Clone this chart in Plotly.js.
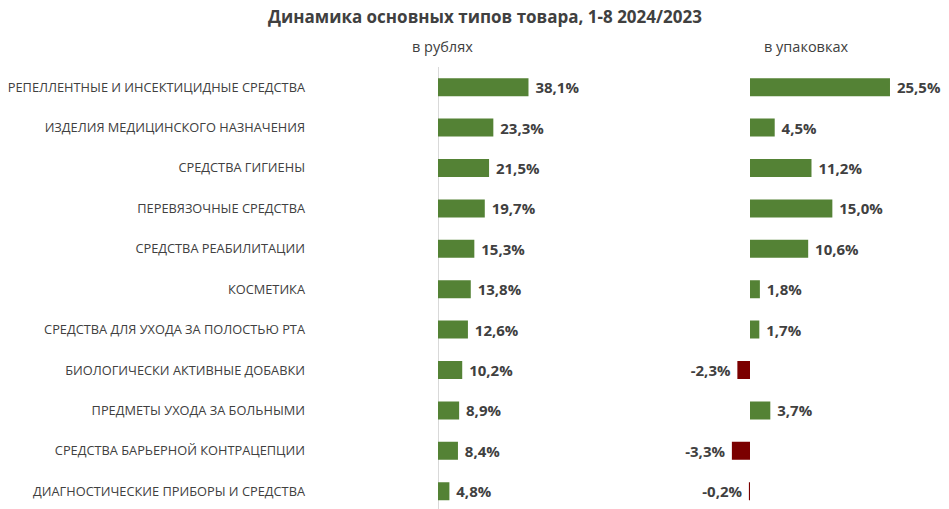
<!DOCTYPE html>
<html><head><meta charset="utf-8">
<script src="https://cdn.plot.ly/plotly-3.0.1.min.js"></script>
<style>html,body{margin:0;padding:0;background:#fff}#chart{width:949px;height:509px}</style>
</head><body><div id="chart"></div>
<script>
const categories = [
  "РЕПЕЛЛЕНТНЫЕ И ИНСЕКТИЦИДНЫЕ СРЕДСТВА",
  "ИЗДЕЛИЯ МЕДИЦИНСКОГО НАЗНАЧЕНИЯ",
  "СРЕДСТВА ГИГИЕНЫ",
  "ПЕРЕВЯЗОЧНЫЕ СРЕДСТВА",
  "СРЕДСТВА РЕАБИЛИТАЦИИ",
  "КОСМЕТИКА",
  "СРЕДСТВА ДЛЯ УХОДА ЗА ПОЛОСТЬЮ РТА",
  "БИОЛОГИЧЕСКИ АКТИВНЫЕ ДОБАВКИ",
  "ПРЕДМЕТЫ УХОДА ЗА БОЛЬНЫМИ",
  "СРЕДСТВА БАРЬЕРНОЙ КОНТРАЦЕПЦИИ",
  "ДИАГНОСТИЧЕСКИЕ ПРИБОРЫ И СРЕДСТВА"
];
const rubles = [38.1, 23.3, 21.5, 19.7, 15.3, 13.8, 12.6, 10.2, 8.9, 8.4, 4.8];
const packs  = [25.5, 4.5, 11.2, 15.0, 10.6, 1.8, 1.7, -2.3, 3.7, -3.3, -0.2];
const titleText = "Динамика основных типов товара, 1-8 2024/2023";
const panelTitles = ["в рублях", "в упаковках"];

const GREEN = "#548235", RED = "#7B0000", TXT = "#404040";
const W = 949, H = 509, T = 67;
const PH = H - T;
const fmt = v => v.toFixed(1).replace('.', ',') + '%';
const lbl = v => v >= 0 ? '\u00a0' + fmt(v) : fmt(v) + '\u00a0';

// pixel layout helpers
const s1 = 2.375, z1 = 438, r1 = [-3, 60];
const s2 = 5.49,  z2 = 750, r2 = [-8, 32];
const dom1 = [(z1 + r1[0]*s1)/W, (z1 + r1[1]*s1)/W];
const dom2 = [(z2 + r2[0]*s2)/W, (z2 + r2[1]*s2)/W];
const subY = 1 + (T - 47)/PH;

const common = {
  type: 'bar', orientation: 'h', y: categories,
  textposition: 'outside', cliponaxis: false, constraintext: 'none',
  textfont: {family: 'Open Sans, sans-serif', size: 15, color: TXT, weight: 700},
  hoverinfo: 'skip', showlegend: false
};
const t1 = Object.assign({}, common, {
  x: rubles, text: rubles.map(lbl), xaxis: 'x', yaxis: 'y',
  marker: {color: rubles.map(v => v >= 0 ? GREEN : RED)}
});
const t2 = Object.assign({}, common, {
  x: packs, text: packs.map(lbl), xaxis: 'x2', yaxis: 'y',
  marker: {color: packs.map(v => v >= 0 ? GREEN : RED)}
});

const layout = {
  width: W, height: H,
  margin: {l: 0, r: 0, t: T, b: 0, pad: 0},
  paper_bgcolor: '#fff', plot_bgcolor: 'rgba(0,0,0,0)',
  bargap: 0.555,
  font: {family: 'Open Sans, sans-serif', color: TXT},
  title: {text: '<b>' + titleText + '</b>', x: 485/W, xanchor: 'center', y: 1 - 17/H, yanchor: 'middle',
          font: {family: 'Open Sans, sans-serif', size: 17, color: TXT}},
  xaxis: {domain: dom1, range: r1, anchor: 'y', showgrid: false, showticklabels: false, ticks: '',
          zeroline: true, zerolinecolor: '#d9d9d9', zerolinewidth: 1, showline: false, fixedrange: true},
  xaxis2: {domain: dom2, range: r2, anchor: 'y', showgrid: false, showticklabels: false, ticks: '',
          zeroline: false, showline: false, fixedrange: true},
  yaxis: {type: 'category', categoryarray: categories, range: [10.44, -0.5], anchor: 'free', position: 305/W,
          showgrid: false, zeroline: false, showline: false, ticks: '',
          tickfont: {family: 'Open Sans, sans-serif', size: 12.8, color: TXT}, fixedrange: true},
  annotations: [
    {text: panelTitles[0], xref: 'paper', yref: 'paper', x: 442/W, y: subY, xanchor: 'center', yanchor: 'middle',
     showarrow: false, font: {family: 'Open Sans, sans-serif', size: 14.5, color: TXT}},
    {text: panelTitles[1], xref: 'paper', yref: 'paper', x: 806/W, y: subY, xanchor: 'center', yanchor: 'middle',
     showarrow: false, font: {family: 'Open Sans, sans-serif', size: 14.5, color: TXT}}
  ]
};
Plotly.newPlot('chart', [t1, t2], layout, {displayModeBar: false, staticPlot: true});
</script>
</body></html>
